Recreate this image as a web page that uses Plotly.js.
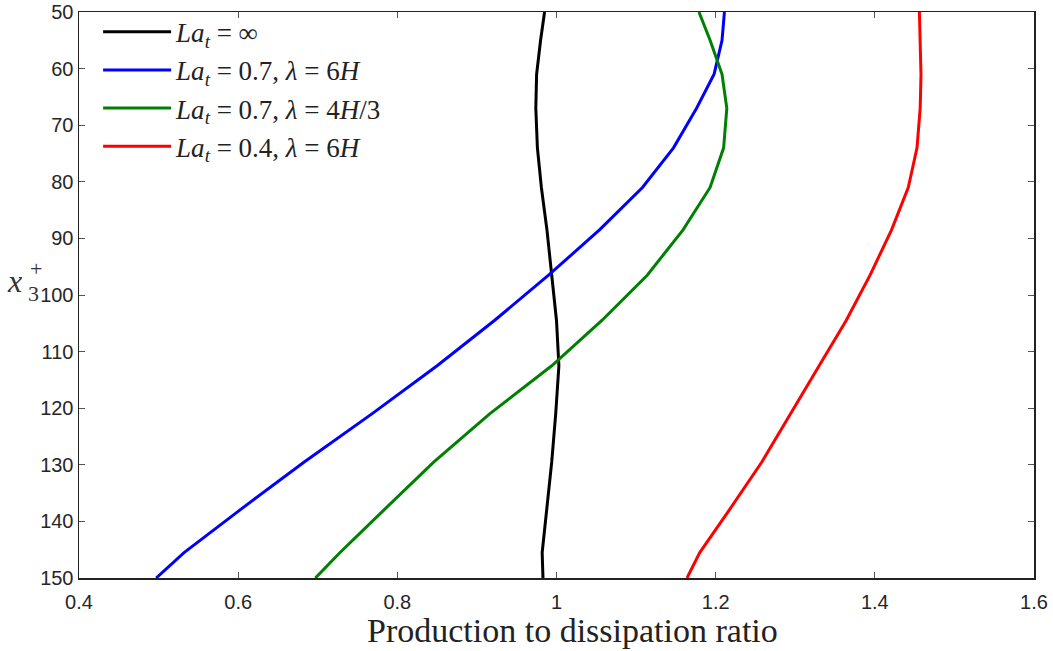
<!DOCTYPE html>
<html>
<head>
<meta charset="utf-8">
<script src="https://cdn.plot.ly/plotly-3.0.1.min.js"></script>
<style>html,body{margin:0;padding:0;background:#fff;}#chart{width:1053px;height:651px;}</style>
</head>
<body>
<div id="chart"></div>
<script>
// depth x3+ (shared by all series)
const depth = [50, 55, 61, 67, 74, 81, 88.5, 96.5, 104.5, 112.5, 121, 129.5, 138, 145.5, 150];

// production to dissipation ratio for each case
const ratioLaInf      = [0.985, 0.980, 0.975, 0.974, 0.976, 0.981, 0.988, 0.994, 1.000, 1.003, 0.999, 0.994, 0.988, 0.982, 0.983];
const ratioLa07L6H    = [1.211, 1.208, 1.198, 1.176, 1.147, 1.108, 1.054, 0.990, 0.922, 0.850, 0.768, 0.683, 0.602, 0.532, 0.497];
const ratioLa07L4H3   = [1.179, 1.193, 1.208, 1.214, 1.210, 1.193, 1.159, 1.114, 1.057, 0.994, 0.916, 0.846, 0.783, 0.728, 0.697];
const ratioLa04L6H    = [1.456, 1.457, 1.458, 1.457, 1.453, 1.442, 1.421, 1.394, 1.364, 1.330, 1.294, 1.258, 1.217, 1.180, 1.164];

const seriesNames = [
  '<i>La</i><sub><i>t</i></sub> = ∞',
  '<i>La</i><sub><i>t</i></sub> = 0.7, <i>λ</i> = 6<i>H</i>',
  '<i>La</i><sub><i>t</i></sub> = 0.7, <i>λ</i> = 4<i>H</i>/3',
  '<i>La</i><sub><i>t</i></sub> = 0.4, <i>λ</i> = 6<i>H</i>'
];
const seriesValues = [ratioLaInf, ratioLa07L6H, ratioLa07L4H3, ratioLa04L6H];
const seriesColors = ['#000000', '#0000ff', '#008000', '#ff0000'];

const xTickVals = [0.4, 0.6, 0.8, 1, 1.2, 1.4, 1.6];
const yTickVals = [50, 60, 70, 80, 90, 100, 110, 120, 130, 140, 150];

const traces = seriesValues.map((vals, i) => ({
  type: 'scatter',
  mode: 'lines',
  x: vals,
  y: depth,
  name: seriesNames[i],
  line: {color: seriesColors[i], width: 3}
}));

const tickFont = {family: 'Liberation Sans, Arial, sans-serif', size: 20, color: '#262626'};
const serif = 'Liberation Serif, Times New Roman, serif';

const layout = {
  width: 1053,
  height: 651,
  margin: {l: 79, r: 19, t: 12, b: 73, autoexpand: false},
  paper_bgcolor: '#ffffff',
  plot_bgcolor: '#ffffff',
  showlegend: true,
  legend: {
    x: 0.02, y: 0.988, xanchor: 'left', yanchor: 'top', yref: 'container',
    bgcolor: 'rgba(255,255,255,0)',
    borderwidth: 0,
    itemwidth: 68,
    font: {family: serif, size: 27, color: '#222'}
  },
  xaxis: {
    range: [0.4, 1.6],
    tickvals: xTickVals,
    ticks: 'inside', ticklen: 6, tickwidth: 1, tickcolor: '#555',
    showline: true, linecolor: '#222', linewidth: 1.5, mirror: 'ticks',
    showgrid: false, zeroline: false,
    ticklabelstandoff: 5,
    tickfont: tickFont
  },
  yaxis: {
    range: [150, 50],
    tickvals: yTickVals,
    ticks: 'inside', ticklen: 6, tickwidth: 1, tickcolor: '#555',
    showline: true, linecolor: '#222', linewidth: 1.5, mirror: 'ticks',
    showgrid: false, zeroline: false,
    tickfont: tickFont
  },
  annotations: [
    {xref: 'paper', yref: 'paper', x: 0.517, y: -0.093, xanchor: 'center', yanchor: 'middle', showarrow: false,
     text: 'Production to dissipation ratio',
     font: {family: serif, size: 34, color: '#222'}},
    {xref: 'paper', yref: 'paper', x: -0.068, y: 0.525, xanchor: 'center', yanchor: 'middle', showarrow: false,
     text: '<i>x</i>', font: {family: serif, size: 32, color: '#333'}},
    {xref: 'paper', yref: 'paper', x: -0.045, y: 0.546, xanchor: 'center', yanchor: 'middle', showarrow: false,
     text: '+', font: {family: serif, size: 22, color: '#333'}},
    {xref: 'paper', yref: 'paper', x: -0.048, y: 0.503, xanchor: 'center', yanchor: 'middle', showarrow: false,
     text: '3', font: {family: serif, size: 22, color: '#333'}}
  ]
};

Plotly.newPlot('chart', traces, layout, {displayModeBar: false, staticPlot: true});
</script>
</body>
</html>
